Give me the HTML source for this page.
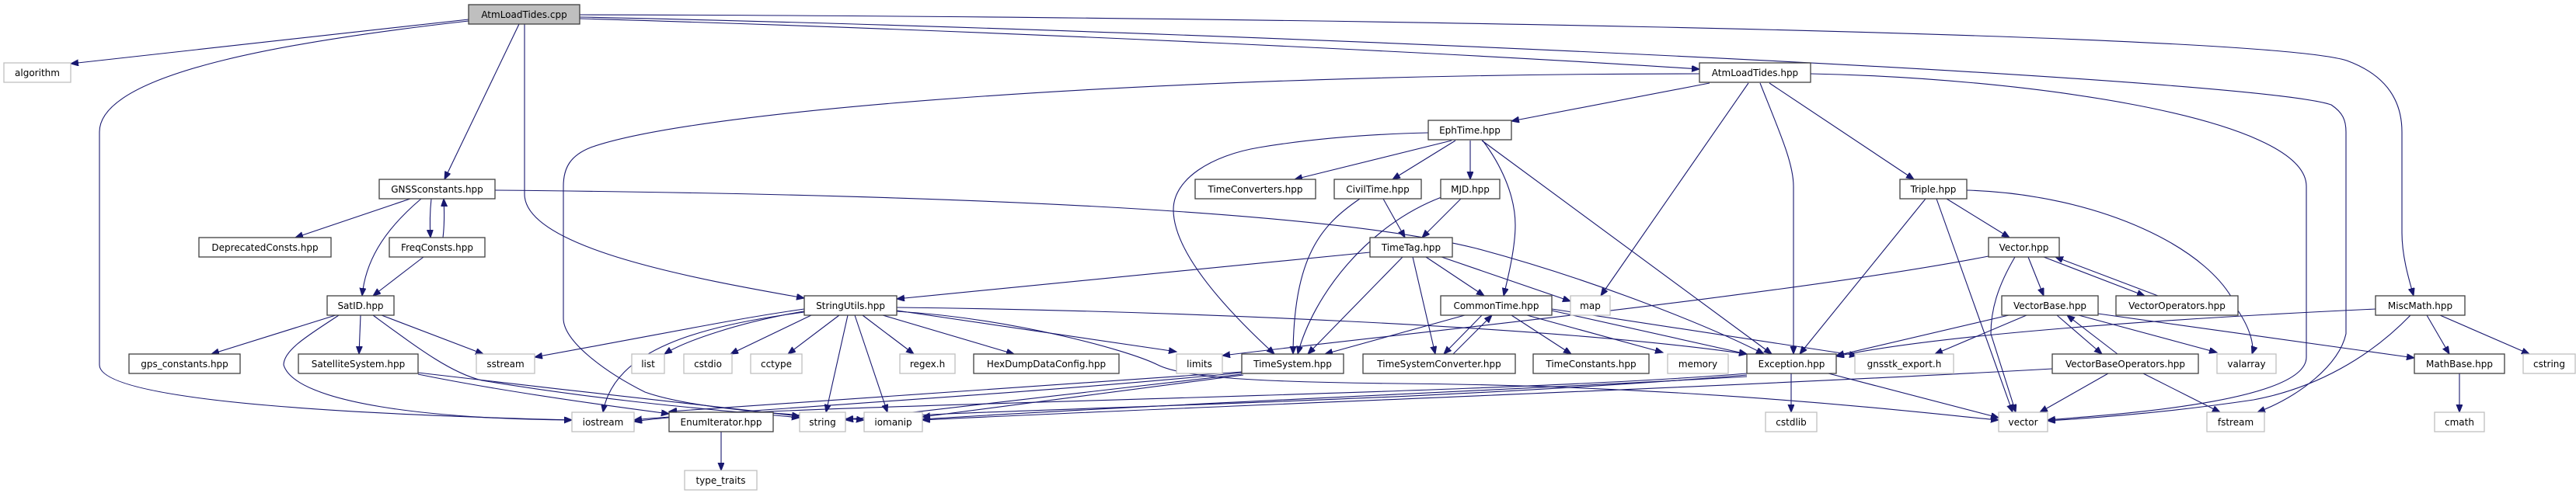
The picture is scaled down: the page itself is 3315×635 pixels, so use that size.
<!DOCTYPE html>
<html><head><meta charset="utf-8"><style>
html,body{margin:0;padding:0;background:#fff;}
svg{display:block;}
text{font-family:"DejaVu Sans","Liberation Sans",sans-serif;font-size:12px;fill:#000;}
.e{fill:none;stroke:#191970;stroke-width:1.1;marker-end:url(#a);}
.n{fill:#fff;stroke:#404040;stroke-width:1.3;}
.g{fill:#fff;stroke:#bfbfbf;stroke-width:1.3;}
</style></head><body>
<svg width="3315" height="635" viewBox="0 0 3315 635" xmlns="http://www.w3.org/2000/svg">
<defs><marker id="a" markerUnits="userSpaceOnUse" markerWidth="12" markerHeight="10" refX="10" refY="4" orient="auto"><path d="M0,0 L10,4 L0,8 z" fill="#191970" stroke="#191970"/></marker></defs>
<g>
<path class="e" d="M603,25 L91,82"/>
<path class="e" d="M603,27 C400,50 128,90 128,170 L128,470 C128,520 500,535 736,541"/>
<path class="e" d="M668,31 L572,231"/>
<path class="e" d="M675,31 L675,250 C675,320 900,360 1035,384"/>
<path class="e" d="M746,24 C1300,40 1900,70 2187,89"/>
<path class="e" d="M746,19 C1500,20 2900,40 3020,78 C3080,100 3091,140 3091,170 L3091,300 C3091,330 3100,360 3106,381"/>
<path class="e" d="M746,22 C1600,40 2900,100 3000,135 C3015,145 3019,155 3019,170 L3019,430 C3010,470 2960,510 2905,531"/>
<path class="e" d="M2200,107 L1945,156"/>
<path class="e" d="M2250,107 L2060,381"/>
<path class="e" d="M2265,107 C2290,170 2308,210 2308,240 L2308,456"/>
<path class="e" d="M2277,107 L2463,231"/>
<path class="e" d="M2330,95 C2600,100 2968,150 2968,240 L2968,460 C2968,520 2700,535 2635,541"/>
<path class="e" d="M2187,95 C1500,95 900,140 760,190 C735,200 725,215 725,240 L725,410 C725,440 780,480 830,505 C900,530 1050,535 1112,541"/>
<path class="e" d="M1868,181 L1666,231"/>
<path class="e" d="M1873,181 L1792,231"/>
<path class="e" d="M1892,181 L1892,231"/>
<path class="e" d="M1908,181 C1930,210 1950,250 1950,290 C1950,320 1940,360 1935,381"/>
<path class="e" d="M1907,181 L2280,456"/>
<path class="e" d="M1838,171 C1750,173 1680,180 1620,190 C1560,200 1510,230 1510,270 C1510,330 1590,410 1640,456"/>
<path class="e" d="M1780,256 L1808,306"/>
<path class="e" d="M1750,256 C1700,290 1665,330 1664,456"/>
<path class="e" d="M1880,256 L1830,306"/>
<path class="e" d="M1855,254 C1760,290 1690,380 1670,456"/>
<path class="e" d="M1763,325 L1154,385"/>
<path class="e" d="M1835,331 L1910,381"/>
<path class="e" d="M1855,331 L2021,388"/>
<path class="e" d="M1805,331 L1683,456"/>
<path class="e" d="M1818,331 L1847,456"/>
<path class="e" d="M528,256 L380,306"/>
<path class="e" d="M555,256 C553,275 553,290 554,306"/>
<path class="e" d="M570,306 C572,290 572,275 571,256"/>
<path class="e" d="M542,256 C490,300 470,340 466,381"/>
<path class="e" d="M637,245 C1200,250 1700,270 1900,320 C2050,360 2200,420 2270,456"/>
<path class="e" d="M545,331 L480,381"/>
<path class="e" d="M432,406 L272,456"/>
<path class="e" d="M464,406 L462,456"/>
<path class="e" d="M491,406 L622,456"/>
<path class="e" d="M436,406 C400,430 365,450 365,470 C380,520 560,540 736,541"/>
<path class="e" d="M480,406 C540,450 580,480 620,490 C800,520 950,530 1029,538"/>
<path class="e" d="M538,480 C700,500 900,520 1029,536"/>
<path class="e" d="M538,482 C650,505 800,525 861,533"/>
<path class="e" d="M1040,400 C950,415 880,440 855,456"/>
<path class="e" d="M1044,406 L940,456"/>
<path class="e" d="M1080,406 L1014,456"/>
<path class="e" d="M1110,406 L1176,456"/>
<path class="e" d="M1136,406 L1305,456"/>
<path class="e" d="M1154,400 L1514,453"/>
<path class="e" d="M1154,396 C1500,400 2000,420 2248,456"/>
<path class="e" d="M1154,401 C1300,410 1450,450 1490,470 C1520,485 1600,492 1800,494 C2200,497 2500,535 2572,541"/>
<path class="e" d="M1091,406 L1063,531"/>
<path class="e" d="M1100,406 L1142,531"/>
<path class="e" d="M1035,398 C950,410 880,425 688,460"/>
<path class="e" d="M1035,402 C900,420 790,450 776,531"/>
<path class="e" d="M1885,406 L1705,456"/>
<path class="e" d="M1907,406 L1858,456"/>
<path class="e" d="M1870,456 L1920,406"/>
<path class="e" d="M1945,406 L2022,456"/>
<path class="e" d="M1965,406 L2140,454"/>
<path class="e" d="M1997,400 L2248,456"/>
<path class="e" d="M1997,398 L2390,458"/>
<path class="e" d="M1598,482 L1088,541"/>
<path class="e" d="M1598,480 C1300,510 900,530 816,543"/>
<path class="e" d="M1600,483 L1187,537"/>
<path class="e" d="M1598,479 C1300,500 1000,520 861,530"/>
<path class="e" d="M2248,481 C1900,510 1000,520 816,541"/>
<path class="e" d="M2248,483 C1800,520 1300,525 1088,540"/>
<path class="e" d="M2248,485 C2000,500 1500,520 1187,540"/>
<path class="e" d="M2305,481 L2305,531"/>
<path class="e" d="M2353,481 L2572,538"/>
<path class="e" d="M2478,256 L2316,456"/>
<path class="e" d="M2492,256 L2590,531"/>
<path class="e" d="M2505,256 L2586,306"/>
<path class="e" d="M2531,245 C2700,250 2850,320 2880,400 C2900,430 2900,450 2898,456"/>
<path class="e" d="M2559,330 C2300,380 1800,430 1573,458"/>
<path class="e" d="M2610,331 L2630,381"/>
<path class="e" d="M2630,331 L2760,381"/>
<path class="e" d="M2777,381 L2645,331"/>
<path class="e" d="M2593,331 C2570,370 2562,400 2562,430 L2594,531"/>
<path class="e" d="M2585,406 L2363,458"/>
<path class="e" d="M2608,406 L2490,456"/>
<path class="e" d="M2647,406 L2705,456"/>
<path class="e" d="M2725,456 L2660,406"/>
<path class="e" d="M2675,406 L2853,454"/>
<path class="e" d="M2700,404 L3107,461"/>
<path class="e" d="M2713,481 L2625,531"/>
<path class="e" d="M2758,481 L2857,531"/>
<path class="e" d="M2641,475 C2200,500 1500,525 1187,541"/>
<path class="e" d="M3057,398 C2800,410 2500,430 2363,459"/>
<path class="e" d="M3102,406 C3050,460 2980,500 2900,515 C2800,530 2700,538 2635,542"/>
<path class="e" d="M3123,406 L3152,456"/>
<path class="e" d="M3140,406 L3255,456"/>
<path class="e" d="M3165,481 L3165,531"/>
<path class="e" d="M928,556 L928,606"/>
</g>
<g text-anchor="middle">
<rect x="603" y="6" width="143" height="25" fill="#bfbfbf" stroke="#404040" stroke-width="1.3"/><text x="674.5" y="23">AtmLoadTides.cpp</text>
<rect class="g" x="5" y="81" width="86" height="25"/><text x="48" y="98">algorithm</text>
<rect class="n" x="2187" y="81" width="143" height="25"/><text x="2258.5" y="98">AtmLoadTides.hpp</text>
<rect class="n" x="1838" y="155" width="107" height="25"/><text x="1891.5" y="172">EphTime.hpp</text>
<rect class="n" x="488" y="231" width="149" height="25"/><text x="562.5" y="248">GNSSconstants.hpp</text>
<rect class="n" x="1538" y="231" width="155" height="25"/><text x="1615.5" y="248">TimeConverters.hpp</text>
<rect class="n" x="1717" y="231" width="112" height="25"/><text x="1773" y="248">CivilTime.hpp</text>
<rect class="n" x="1854" y="231" width="76" height="25"/><text x="1892" y="248">MJD.hpp</text>
<rect class="n" x="2445" y="231" width="86" height="25"/><text x="2488" y="248">Triple.hpp</text>
<rect class="n" x="256" y="306" width="170" height="25"/><text x="341" y="323">DeprecatedConsts.hpp</text>
<rect class="n" x="501" y="306" width="123" height="25"/><text x="562.5" y="323">FreqConsts.hpp</text>
<rect class="n" x="1763" y="306" width="106" height="25"/><text x="1816" y="323">TimeTag.hpp</text>
<rect class="n" x="2559" y="306" width="91" height="25"/><text x="2604.5" y="323">Vector.hpp</text>
<rect class="n" x="421" y="381" width="86" height="25"/><text x="464" y="398">SatID.hpp</text>
<rect class="n" x="1035" y="381" width="119" height="25"/><text x="1094.5" y="398">StringUtils.hpp</text>
<rect class="n" x="1854" y="381" width="143" height="25"/><text x="1925.5" y="398">CommonTime.hpp</text>
<rect class="g" x="2021" y="381" width="51" height="25"/><text x="2046.5" y="398">map</text>
<rect class="n" x="2576" y="381" width="124" height="25"/><text x="2638" y="398">VectorBase.hpp</text>
<rect class="n" x="2723" y="381" width="157" height="25"/><text x="2801.5" y="398">VectorOperators.hpp</text>
<rect class="n" x="3057" y="381" width="115" height="25"/><text x="3114.5" y="398">MiscMath.hpp</text>
<rect class="n" x="166" y="456" width="143" height="25"/><text x="237.5" y="473">gps_constants.hpp</text>
<rect class="n" x="384" y="456" width="154" height="25"/><text x="461" y="473">SatelliteSystem.hpp</text>
<rect class="g" x="613" y="456" width="75" height="25"/><text x="650.5" y="473">sstream</text>
<rect class="g" x="813" y="456" width="42" height="25"/><text x="834" y="473">list</text>
<rect class="g" x="880" y="456" width="62" height="25"/><text x="911" y="473">cstdio</text>
<rect class="g" x="966" y="456" width="66" height="25"/><text x="999" y="473">cctype</text>
<rect class="g" x="1158" y="456" width="71" height="25"/><text x="1193.5" y="473">regex.h</text>
<rect class="n" x="1253" y="456" width="187" height="25"/><text x="1346.5" y="473">HexDumpDataConfig.hpp</text>
<rect class="g" x="1514" y="456" width="59" height="25"/><text x="1543.5" y="473">limits</text>
<rect class="n" x="1598" y="456" width="131" height="25"/><text x="1663.5" y="473">TimeSystem.hpp</text>
<rect class="n" x="1754" y="456" width="196" height="25"/><text x="1852" y="473">TimeSystemConverter.hpp</text>
<rect class="n" x="1973" y="456" width="149" height="25"/><text x="2047.5" y="473">TimeConstants.hpp</text>
<rect class="g" x="2146" y="456" width="78" height="25"/><text x="2185" y="473">memory</text>
<rect class="n" x="2248" y="456" width="115" height="25"/><text x="2305.5" y="473">Exception.hpp</text>
<rect class="g" x="2387" y="456" width="127" height="25"/><text x="2450.5" y="473">gnsstk_export.h</text>
<rect class="n" x="2641" y="456" width="188" height="25"/><text x="2735" y="473">VectorBaseOperators.hpp</text>
<rect class="g" x="2853" y="456" width="76" height="25"/><text x="2891" y="473">valarray</text>
<rect class="n" x="3107" y="456" width="116" height="25"/><text x="3165" y="473">MathBase.hpp</text>
<rect class="g" x="3247" y="456" width="67" height="25"/><text x="3280.5" y="473">cstring</text>
<rect class="g" x="736" y="531" width="80" height="25"/><text x="776" y="548">iostream</text>
<rect class="n" x="861" y="531" width="134" height="25"/><text x="928" y="548">EnumIterator.hpp</text>
<rect class="g" x="1029" y="531" width="59" height="25"/><text x="1058.5" y="548">string</text>
<rect class="g" x="1112" y="531" width="75" height="25"/><text x="1149.5" y="548">iomanip</text>
<rect class="g" x="2272" y="531" width="66" height="25"/><text x="2305" y="548">cstdlib</text>
<rect class="g" x="2572" y="531" width="63" height="25"/><text x="2603.5" y="548">vector</text>
<rect class="g" x="2840" y="531" width="74" height="25"/><text x="2877" y="548">fstream</text>
<rect class="g" x="3133" y="531" width="64" height="25"/><text x="3165" y="548">cmath</text>
<rect class="g" x="881" y="606" width="93" height="25"/><text x="927.5" y="623">type_traits</text>
</g>
</svg>
</body></html>
